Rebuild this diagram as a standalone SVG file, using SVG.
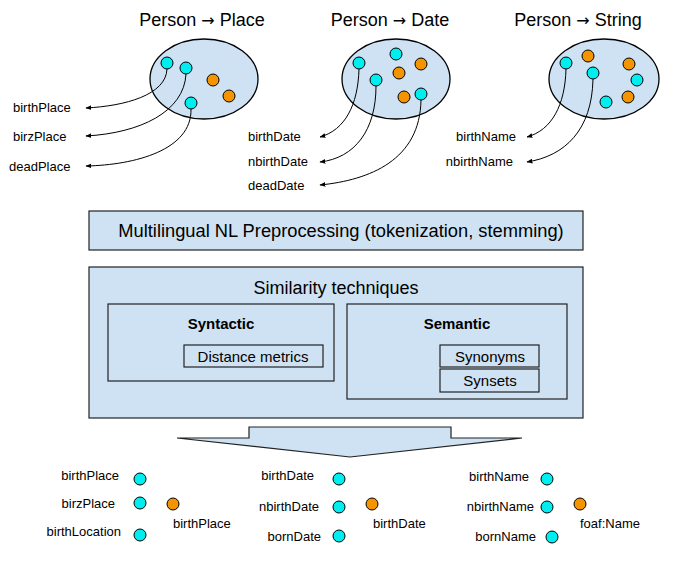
<svg xmlns="http://www.w3.org/2000/svg" width="695" height="570" viewBox="0 0 695 570">
<defs>
<style>
text{font-family:"Liberation Sans",Arial,sans-serif;fill:#000}
.title{font-size:18px;text-anchor:middle}
.arr{font-family:"DejaVu Sans",sans-serif;font-size:16px}
.lbl{font-size:13px}
.end{text-anchor:end}
.mid{text-anchor:middle}
.set{fill:#cfe2f3;stroke:#000;stroke-width:1.3}
.box{fill:#cfe2f3;stroke:#222;stroke-width:1.2}
.c{fill:#00eef0;stroke:#000;stroke-width:1}
.o{fill:#f39400;stroke:#000;stroke-width:1}
.con{fill:none;stroke:#000;stroke-width:1;marker-end:url(#ah)}
</style>
<marker id="ah" viewBox="0 0 10 10" refX="9" refY="5" markerWidth="6" markerHeight="6" orient="auto" markerUnits="userSpaceOnUse">
<path d="M0,1 L10,5 L0,9 Z" fill="#000"/>
</marker>
</defs>
<rect width="695" height="570" fill="#fff"/>

<g id="place-set">
<text class="title" x="202" y="26">Person <tspan class="arr">→</tspan> Place</text>
<ellipse class="set" cx="204" cy="79" rx="54" ry="40"/>
<circle class="c" cx="167" cy="63" r="6"/>
<circle class="c" cx="186" cy="68" r="6"/>
<circle class="c" cx="191" cy="103" r="6"/>
<circle class="o" cx="213" cy="80" r="6"/>
<circle class="o" cx="229" cy="96" r="6"/>
</g>
<g id="date-set">
<text class="title" x="390" y="26">Person <tspan class="arr">→</tspan> Date</text>
<ellipse class="set" cx="396" cy="79" rx="54" ry="40"/>
<circle class="c" cx="359" cy="63" r="6"/>
<circle class="c" cx="396" cy="54" r="6"/>
<circle class="c" cx="376" cy="80" r="6"/>
<circle class="c" cx="421" cy="94" r="6"/>
<circle class="o" cx="421" cy="64" r="6"/>
<circle class="o" cx="399" cy="73" r="6"/>
<circle class="o" cx="404" cy="97" r="6"/>
</g>
<g id="string-set">
<text class="title" x="578" y="26">Person <tspan class="arr">→</tspan> String</text>
<ellipse class="set" cx="604" cy="79" rx="55" ry="40"/>
<circle class="c" cx="566" cy="63" r="6"/>
<circle class="c" cx="593" cy="73" r="6"/>
<circle class="c" cx="637" cy="80" r="6"/>
<circle class="c" cx="606" cy="102" r="6"/>
<circle class="o" cx="588" cy="56" r="6"/>
<circle class="o" cx="629" cy="64" r="6"/>
<circle class="o" cx="628" cy="97" r="6"/>
</g>

<g id="top-labels">
<text class="lbl" x="13" y="112">birthPlace</text>
<text class="lbl" x="13" y="141">birzPlace</text>
<text class="lbl" x="9" y="171">deadPlace</text>
<text class="lbl" x="248" y="141">birthDate</text>
<text class="lbl" x="248" y="166">nbirthDate</text>
<text class="lbl" x="248" y="190">deadDate</text>
<text class="lbl end" x="516" y="141">birthName</text>
<text class="lbl end" x="513" y="166">nbirthName</text>
</g>

<g id="connectors">
<path class="con" d="M167,69 C166,95 125,106 86,108"/>
<path class="con" d="M186,74 C184,112 140,133 86,136"/>
<path class="con" d="M191,109 C192,150 135,165 86,166"/>
<path class="con" d="M359,69 C358,105 345,130 320,137"/>
<path class="con" d="M376,86 C376,130 355,158 320,162"/>
<path class="con" d="M421,100 C420,160 370,180 320,185"/>
<path class="con" d="M566,69 C565,105 552,130 527,137"/>
<path class="con" d="M593,79 C592,130 565,156 527,162"/>
</g>

<g id="preprocessing">
<rect class="box" x="89" y="211" width="494" height="39"/>
<text class="mid" x="341" y="237" font-size="18.3">Multilingual NL Preprocessing (tokenization, stemming)</text>
</g>

<g id="similarity">
<rect class="box" x="89" y="267" width="494" height="151"/>
<text class="mid" x="336" y="294" font-size="18">Similarity techniques</text>
</g>
<g id="syntactic">
<rect class="box" x="108" y="304" width="226" height="77"/>
<text class="mid" x="221" y="329" font-size="15" font-weight="bold">Syntactic</text>
</g>
<g id="distance-metrics">
<rect class="box" x="184" y="345" width="139" height="22"/>
<text class="mid" x="253" y="362" font-size="15">Distance metrics</text>
</g>
<g id="semantic">
<rect class="box" x="347" y="304" width="220" height="95"/>
<text class="mid" x="457" y="329" font-size="15" font-weight="bold">Semantic</text>
</g>
<g id="synonyms">
<rect class="box" x="440" y="345" width="99" height="22"/>
<text class="mid" x="490" y="362" font-size="15">Synonyms</text>
</g>
<g id="synsets">
<rect class="box" x="440" y="369" width="99" height="23"/>
<text class="mid" x="490" y="386" font-size="15">Synsets</text>
</g>

<g id="down-arrow">
<polygon class="box" points="249,427 451,427 451,438 522,438 350,457 177,438 249,438"/>
</g>

<g id="result-place">
<text class="lbl end" x="119" y="480">birthPlace</text>
<text class="lbl end" x="115" y="508">birzPlace</text>
<text class="lbl end" x="121" y="536">birthLocation</text>
<circle class="c" cx="140" cy="479" r="6"/>
<circle class="c" cx="140" cy="503" r="6"/>
<circle class="c" cx="140" cy="535" r="6"/>
<circle class="o" cx="173" cy="504" r="6"/>
<text class="lbl" x="173" y="528">birthPlace</text>
</g>
<g id="result-date">
<text class="lbl end" x="314" y="480">birthDate</text>
<text class="lbl end" x="319" y="511">nbirthDate</text>
<text class="lbl end" x="321" y="541">bornDate</text>
<circle class="c" cx="339" cy="479" r="6"/>
<circle class="c" cx="339" cy="507" r="6"/>
<circle class="c" cx="339" cy="536" r="6"/>
<circle class="o" cx="372" cy="504" r="6"/>
<text class="lbl" x="373" y="528">birthDate</text>
</g>
<g id="result-name">
<text class="lbl end" x="529" y="481">birthName</text>
<text class="lbl end" x="534" y="511">nbirthName</text>
<text class="lbl end" x="536" y="541">bornName</text>
<circle class="c" cx="547" cy="479" r="6"/>
<circle class="c" cx="547" cy="507" r="6"/>
<circle class="c" cx="552" cy="537" r="6"/>
<circle class="o" cx="580" cy="504" r="6"/>
<text class="lbl" x="580" y="528">foaf:Name</text>
</g>
</svg>
